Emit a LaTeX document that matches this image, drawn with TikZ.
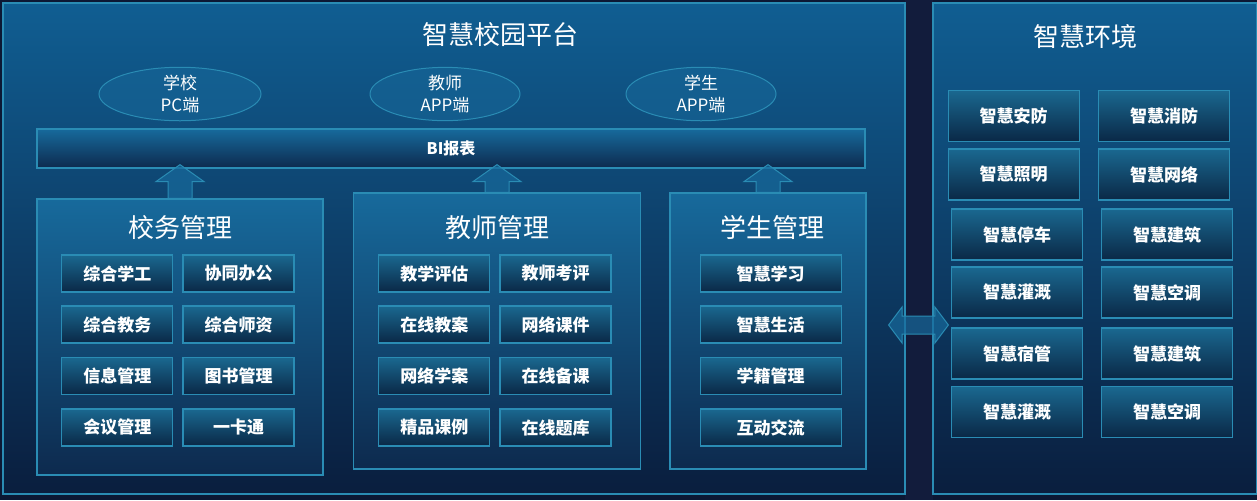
\documentclass[tikz,border=0pt]{standalone}
\usepackage{fontspec}
\setmainfont{Noto Sans CJK SC}
\usetikzlibrary{calc, shapes.geometric}
\definecolor{bgdark}{HTML}{0C1834}
\definecolor{gapcol}{HTML}{121C3C}
\definecolor{frametop}{HTML}{105E92}
\definecolor{framebot}{HTML}{0A1E3E}
\definecolor{paneltop}{HTML}{176A9C}
\definecolor{panelbot}{HTML}{0D2A4E}
\definecolor{edge}{HTML}{2A8CB4}
\definecolor{boxtop}{HTML}{1A6890}
\definecolor{boxbot}{HTML}{0A2846}

\begin{document}
\begin{tikzpicture}[x=0.5pt,y=-0.5pt,
	item/.style={draw=edge,line width=0.6pt,top color=boxtop,bottom color=boxbot,text=white,
		font=\bfseries\fontsize{8.5}{10}\selectfont,minimum width=55.5pt,minimum height=18.5pt,inner sep=0pt},
	envbox/.style={item,minimum width=65.5pt,minimum height=25.5pt},
	stubox/.style={item,minimum width=70.5pt},
	panel/.style={draw=edge,line width=0.6pt,top color=paneltop,bottom color=panelbot,inner sep=0pt},
	frame/.style={draw=edge,line width=0.6pt,top color=frametop,bottom color=framebot,inner sep=0pt},
	title/.style={text=white,font=\fontsize{13}{15}\selectfont},
	client/.style={ellipse,draw=edge,line width=0.5pt,fill=paneltop,fill opacity=0.5,text opacity=1,text=white,
		align=center,font=\fontsize{8.5}{11}\selectfont,minimum width=81pt,minimum height=22pt,inner sep=0pt},
	blockarrow/.style={draw=edge,line width=0.5pt,fill=paneltop,fill opacity=0.7}]
	\useasboundingbox (0,0) rectangle (1257,500);
	\fill[bgdark] (0,0) rectangle (1257,500);
	\fill[gapcol] (905,0) rectangle (933,500);
	% frames
	\node[frame,minimum width=451pt,minimum height=245.5pt] (plat) at (454,248.5) {};
	\node[frame,minimum width=162pt,minimum height=245.5pt] (envf) at (1257,248.5) [anchor=center,xshift=-81pt] {};
	\node[title] (plattitle) at (500,35) {智慧校园平台};
	\node[title] (envtitle) at (1085,37) {智慧环境};
	% clients
	\node[client] (pc) at (180,94) {学校\\PC端};
	\node[client,minimum width=75pt] (tapp) at (445,94) {教师\\APP端};
	\node[client,minimum width=75pt] (sapp) at (701,94) {学生\\APP端};
	% BI bar
	\node[panel,minimum width=414pt,minimum height=19.5pt,text=white,font=\bfseries\fontsize{8}{10}\selectfont] (bi) at (451,148.5) {BI报表};
	% panels
	\node[panel,minimum width=143pt,minimum height=138pt] (xw) at (180,337) {};
	\node[panel,minimum width=143.5pt,minimum height=138pt] (js) at (497,331) {};
	\node[panel,minimum width=98pt,minimum height=138pt] (xs) at (768,331) {};
	\node[title] (xwt) at (180,228) {校务管理};
	\node[title] (jst) at (497,228) {教师管理};
	\node[title] (xst) at (772,228) {学生管理};
	% up arrows
	\foreach \p in {xw,js,xs}
		\draw[blockarrow] ($(\p.north)+(-12,0)$) -- ($(bi.south -| \p.north)+(-12,13)$) -- ++(-12,0)
			-- ($(bi.south -| \p.north)+(0,-4)$) -- ($(bi.south -| \p.north)+(24,13)$) -- ++(-12,0)
			-- ($(\p.north)+(12,0)$) -- cycle;
	% school affairs
	\node[item] (xw1) at (117.3,273.5) {综合学工};
	\node[item] (xw2) at (238.5,273.5) {协同办公};
	\node[item] (xw3) at (117.3,324.5) {综合教务};
	\node[item] (xw4) at (238.5,324.5) {综合师资};
	\node[item] (xw5) at (117.3,376) {信息管理};
	\node[item] (xw6) at (238.5,376) {图书管理};
	\node[item] (xw7) at (117.3,427.5) {会议管理};
	\node[item] (xw8) at (238.5,427.5) {一卡通};
	% teachers
	\node[item] (js1) at (434.3,273.5) {教学评估};
	\node[item] (js2) at (555.5,273.5) {教师考评};
	\node[item] (js3) at (434.3,324.5) {在线教案};
	\node[item] (js4) at (555.5,324.5) {网络课件};
	\node[item] (js5) at (434.3,376) {网络学案};
	\node[item] (js6) at (555.5,376) {在线备课};
	\node[item] (js7) at (434.3,427.5) {精品课例};
	\node[item] (js8) at (555.5,427.5) {在线题库};
	% students
	\node[stubox] (xs1) at (770.7,273.5) {智慧学习};
	\node[stubox] (xs2) at (770.7,324.5) {智慧生活};
	\node[stubox] (xs3) at (770.7,376) {学籍管理};
	\node[stubox] (xs4) at (770.7,427.5) {互动交流};
	% environment
	\node[envbox] (env1) at (1013.7,116) {智慧安防};
	\node[envbox] (env2) at (1164.2,116) {智慧消防};
	\node[envbox] (env3) at (1013.7,174.5) {智慧照明};
	\node[envbox] (env4) at (1164.2,174.5) {智慧网络};
	\node[envbox] (env5) at (1017.1,234.5) {智慧停车};
	\node[envbox] (env6) at (1167,234.5) {智慧建筑};
	\node[envbox] (env7) at (1017.1,292.5) {智慧灌溉};
	\node[envbox] (env8) at (1167,292.5) {智慧空调};
	\node[envbox] (env9) at (1017.1,353.5) {智慧宿管};
	\node[envbox] (env10) at (1167,353.5) {智慧建筑};
	\node[envbox] (env11) at (1017.1,412) {智慧灌溉};
	\node[envbox] (env12) at (1167,412) {智慧空调};
	% double arrow
	\coordinate (dl) at ($(plat.east)+(-17,76.5)$);
	\coordinate (dr) at ($(envf.west)+(16,76.5)$);
	\draw[blockarrow] (dl) -- ++(13.5,-18) -- ++(0,9) -- ($(dr)+(-13.5,-9)$) -- ++(0,-9) -- (dr)
		-- ++(-13.5,18) -- ++(0,-9) -- ($(dl)+(13.5,9)$) -- ++(0,9) -- cycle;
\end{tikzpicture}
\end{document}
